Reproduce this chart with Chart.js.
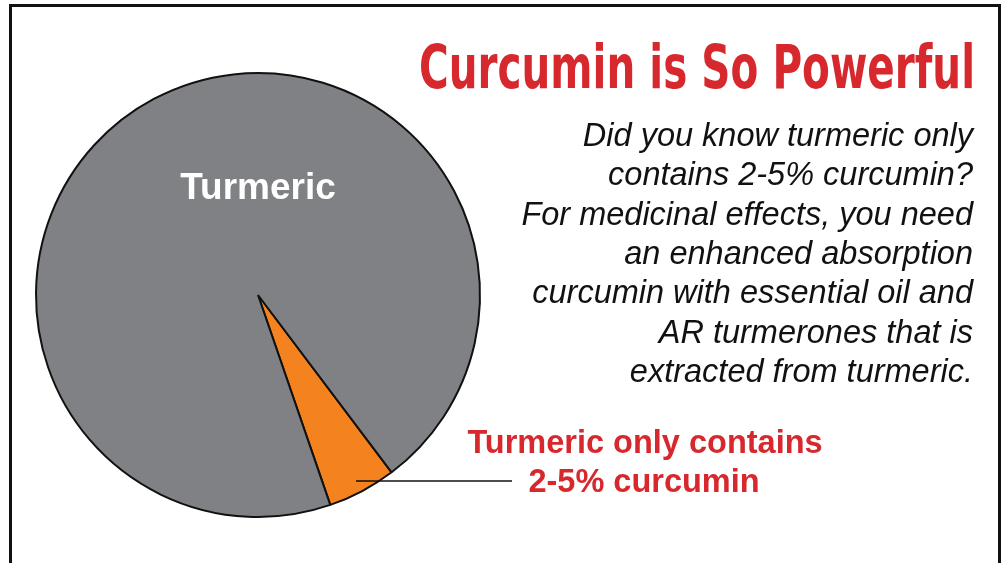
<!DOCTYPE html>
<html lang="en">
<head>
  <meta charset="UTF-8">
  <title>Curcumin is So Powerful</title>
  <script src="https://cdn.jsdelivr.net/npm/chart.js"></script>
  <style>
    html, body { margin: 0; padding: 0; background: #fff; overflow: hidden; }
    .frame { position: absolute; left: 9px; top: 4px; width: 986px; height: 600px; border: 3px solid #111; }
    .wrap { position: absolute; left: 0; top: 0; width: 1004px; height: 563px; }
  </style>
</head>
<body>
  <div class="frame"></div>
  <div class="wrap"><canvas id="pie" width="1004" height="563"></canvas></div>

  <script>
    const labels = ['Curcumin', 'Turmeric'];
    const shares = [5, 95];
    const colors = ['#f4821f', '#808184'];

    const title = 'Curcumin is So Powerful';
    const blurb = [
      'Did you know turmeric only',
      'contains 2-5% curcumin?',
      'For medicinal effects, you need',
      'an enhanced absorption',
      'curcumin with essential oil and',
      'AR turmerones that is',
      'extracted from turmeric.'
    ];
    const callout = ['Turmeric only contains', '2-5% curcumin'];

    const red = '#d7282e';

    const textPlugin = {
      id: 'texts',
      afterDraw(chart) {
        const ctx = chart.ctx;
        const arc = chart.getDatasetMeta(0).data[1];
        ctx.save();

        // label inside big slice
        ctx.fillStyle = '#fff';
        ctx.font = 'bold 37px "Liberation Sans", Arial, sans-serif';
        ctx.textAlign = 'center';
        ctx.textBaseline = 'middle';
        ctx.fillText(labels[1], arc.x, arc.y - arc.outerRadius * 0.48);

        // title
        ctx.fillStyle = red;
        ctx.font = 'bold 60px "Liberation Sans Narrow", "DejaVu Sans Condensed", sans-serif';
        ctx.textAlign = 'right';
        ctx.textBaseline = 'alphabetic';
        ctx.fillText(title, 975, 88, 556);

        // paragraph
        ctx.fillStyle = '#111';
        ctx.font = 'italic 32.5px "Liberation Sans", Arial, sans-serif';
        blurb.forEach((line, i) => ctx.fillText(line, 973, 146 + i * 39.3));

        // callout
        ctx.fillStyle = red;
        ctx.font = 'bold 32.5px "Liberation Sans", Arial, sans-serif';
        ctx.textAlign = 'center';
        ctx.fillText(callout[0], 645, 453, 356);
        ctx.fillText(callout[1], 644, 492);

        // leader line
        ctx.strokeStyle = '#111';
        ctx.lineWidth = 1.5;
        ctx.beginPath();
        ctx.moveTo(356, 481);
        ctx.lineTo(512, 481);
        ctx.stroke();
        ctx.restore();
      }
    };

    new Chart(document.getElementById('pie'), {
      type: 'pie',
      data: {
        labels: labels,
        datasets: [{
          data: shares,
          backgroundColor: colors,
          borderColor: '#111',
          borderWidth: 2
        }]
      },
      options: {
        responsive: false,
        animation: false,
        rotation: 143,
        layout: { padding: { left: 35, right: 523, top: 72, bottom: 45 } },
        plugins: {
          legend: { display: false },
          tooltip: { enabled: false }
        }
      },
      plugins: [textPlugin]
    });
  </script>
</body>
</html>
